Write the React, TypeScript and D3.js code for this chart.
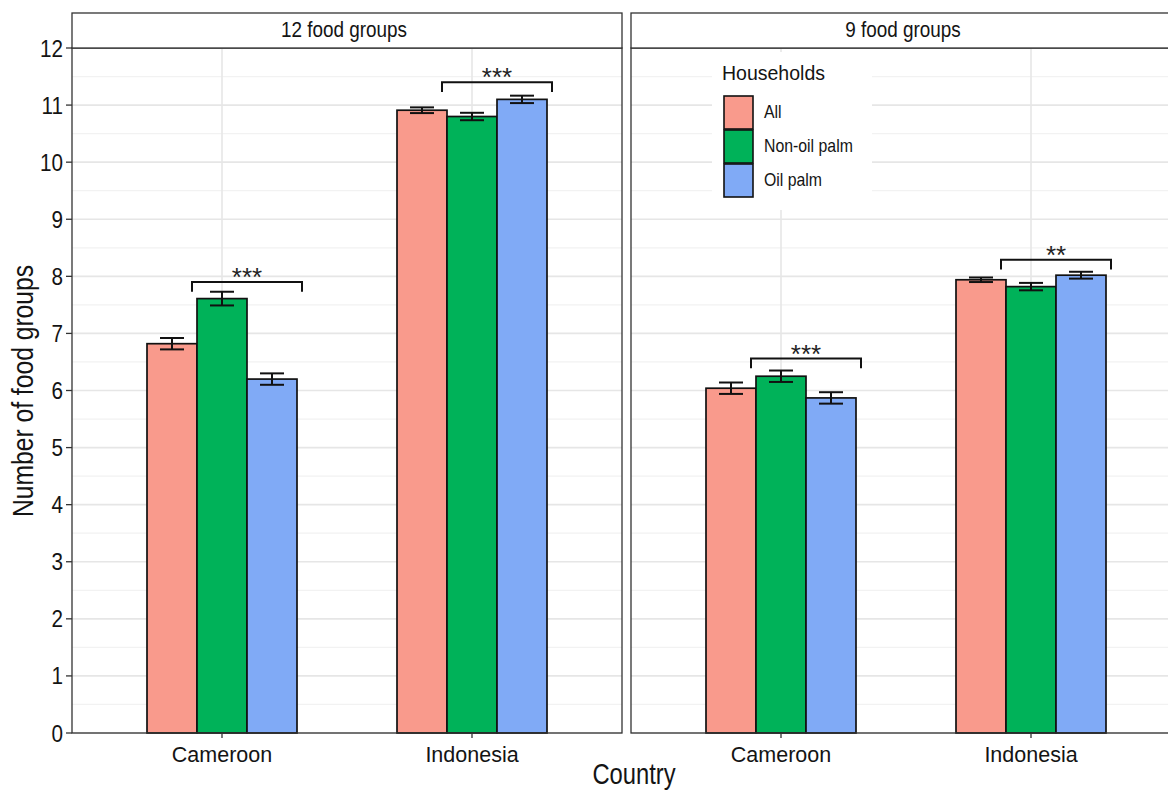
import React from "react";
import * as d3 from "d3";

// ---- data ----
const panels = ["12 food groups", "9 food groups"];
const countries = ["Cameroon", "Indonesia"];
const households = ["All", "Non-oil palm", "Oil palm"];
const fillColors = ["#F99A8C", "#00B259", "#80AAF6"];

const means12 = [
  [6.82, 7.61, 6.2],
  [10.91, 10.8, 11.1],
];
const err12 = [
  [0.1, 0.12, 0.1],
  [0.05, 0.065, 0.065],
];
const means9 = [
  [6.04, 6.25, 5.87],
  [7.94, 7.82, 8.02],
];
const err9 = [
  [0.1, 0.1, 0.1],
  [0.04, 0.065, 0.06],
];
const bracket12 = [7.9, 11.4];
const bracket9 = [6.56, 8.29];
const stars12 = ["***", "***"];
const stars9 = ["***", "**"];
const yTicks = [0, 1, 2, 3, 4, 5, 6, 7, 8, 9, 10, 11, 12];

const panelMeans = [means12, means9];
const panelErrs = [err12, err9];
const panelBrackets = [bracket12, bracket9];
const panelStars = [stars12, stars9];

// ---- layout ----
const W = 1168;
const H = 791;
const panelX0 = [72, 631];
const panelW = 550;
const stripTop = 13;
const plotTop = 48;
const plotBottom = 733;
const FONT = "'Liberation Sans', Arial, Helvetica, sans-serif";

const y = d3.scaleLinear().domain([0, 12]).range([plotBottom, plotTop]);
const minorTicks = d3.range(0.5, 12, 1);
const dodge = [-0.2, 0, 0.2];
const barW = 0.2;

function Txt({ x, y: yy, size, sx = 1, anchor = "middle", rotate = 0, children, weight = "normal", fill = "#141414" }: any) {
  return (
    <text
      transform={`translate(${x},${yy}) rotate(${rotate}) scale(${sx},1)`}
      fontSize={size}
      fontFamily={FONT}
      textAnchor={anchor}
      fontWeight={weight}
      fill={fill}
    >
      {children}
    </text>
  );
}

function Panel({ pi }: { pi: number }) {
  const x0 = panelX0[pi];
  const x = d3.scaleLinear().domain([0.4, 2.6]).range([x0, x0 + panelW]);
  const means = panelMeans[pi];
  const errs = panelErrs[pi];
  const unit = x(1) - x(0);
  const capHalf = 12;
  return (
    <g>
      {/* grid */}
      {minorTicks.map((t) => (
        <line key={"mi" + t} x1={x0} x2={x0 + panelW} y1={y(t)} y2={y(t)} stroke="#f2f2f2" strokeWidth={1.3} />
      ))}
      {yTicks.map((t) => (
        <line key={"ma" + t} x1={x0} x2={x0 + panelW} y1={y(t)} y2={y(t)} stroke="#e6e6e6" strokeWidth={1.6} />
      ))}
      {countries.map((c, ci) => (
        <line key={"v" + c} x1={x(ci + 1)} x2={x(ci + 1)} y1={plotTop} y2={plotBottom} stroke="#e6e6e6" strokeWidth={1.6} />
      ))}
      {/* legend background (only right panel) */}
      {pi === 1 && <rect x={712} y={52} width={160} height={158} fill="#ffffff" />}
      {/* bars */}
      {countries.map((c, ci) =>
        households.map((h, hi) => {
          const cx = ci + 1 + dodge[hi];
          const v = means[ci][hi];
          return (
            <rect
              key={c + h}
              x={x(cx - barW / 2)}
              y={y(v)}
              width={barW * unit}
              height={y(0) - y(v)}
              fill={fillColors[hi]}
              stroke="#111"
              strokeWidth={1.7}
            />
          );
        })
      )}
      {/* error bars */}
      {countries.map((c, ci) =>
        households.map((h, hi) => {
          const cx = x(ci + 1 + dodge[hi]);
          const v = means[ci][hi];
          const e = errs[ci][hi];
          return (
            <g key={"e" + c + h} stroke="#111" strokeWidth={2} fill="none">
              <line x1={cx} x2={cx} y1={y(v + e)} y2={y(v - e)} />
              <line x1={cx - capHalf} x2={cx + capHalf} y1={y(v + e)} y2={y(v + e)} />
              <line x1={cx - capHalf} x2={cx + capHalf} y1={y(v - e)} y2={y(v - e)} />
            </g>
          );
        })
      )}
      {/* significance brackets */}
      {countries.map((c, ci) => {
        const by = panelBrackets[pi][ci];
        const xa = x(ci + 1 - 0.12);
        const xb = x(ci + 1 + 0.32);
        const drop = 0.17;
        return (
          <g key={"b" + c}>
            <path
              d={`M${xa},${y(by - drop)}V${y(by)}H${xb}V${y(by - drop)}`}
              fill="none"
              stroke="#111"
              strokeWidth={2}
            />
            <Txt x={(xa + xb) / 2} y={y(by) + 4} size={26} fill="#222">
              {panelStars[pi][ci]}
            </Txt>
          </g>
        );
      })}
      {/* panel border */}
      <rect x={x0} y={plotTop} width={panelW} height={plotBottom - plotTop} fill="none" stroke="#333" strokeWidth={1.3} />
      {/* strip */}
      <rect x={x0} y={stripTop} width={panelW} height={plotTop - stripTop} fill="#ffffff" stroke="#333" strokeWidth={1.3} />
      <Txt x={x0 + panelW / 2 - 3} y={37} size={22} sx={0.86}>
        {panels[pi]}
      </Txt>
      {/* x ticks + labels */}
      {countries.map((c, ci) => (
        <g key={"xt" + c}>
          <line x1={x(ci + 1)} x2={x(ci + 1)} y1={plotBottom} y2={plotBottom + 5} stroke="#333" strokeWidth={1.3} />
          <Txt x={x(ci + 1)} y={762} size={21.5}>
            {c}
          </Txt>
        </g>
      ))}
    </g>
  );
}

export default function App() {
  return (
    <svg width={W} height={H} style={{ position: "absolute", left: 0, top: 0, background: "#fff" }}>
      <rect width={W} height={H} fill="#fff" />
      <Panel pi={0} />
      <Panel pi={1} />
      {/* y axis ticks & labels */}
      {yTicks.map((t) => (
        <g key={"yt" + t}>
          <line x1={66} x2={72} y1={y(t)} y2={y(t)} stroke="#333" strokeWidth={1.3} />
          <Txt x={63} y={y(t) + 8.5} size={23.5} sx={0.88} anchor="end">
            {t}
          </Txt>
        </g>
      ))}
      {/* axis titles */}
      <Txt x={33} y={391} size={29} sx={0.85} rotate={-90}>
        Number of food groups
      </Txt>
      <Txt x={634} y={784} size={29} sx={0.82}>
        Country
      </Txt>
      {/* legend */}
      <Txt x={722} y={80} size={19.5} anchor="start">
        Households
      </Txt>
      {households.map((h, hi) => (
        <g key={"lg" + h}>
          <rect x={724} y={96 + hi * 34} width={29} height={33} fill={fillColors[hi]} stroke="#111" strokeWidth={1.6} />
          <Txt x={764} y={118 + hi * 34} size={18} sx={0.88} anchor="start">
            {h}
          </Txt>
        </g>
      ))}
    </svg>
  );
}
